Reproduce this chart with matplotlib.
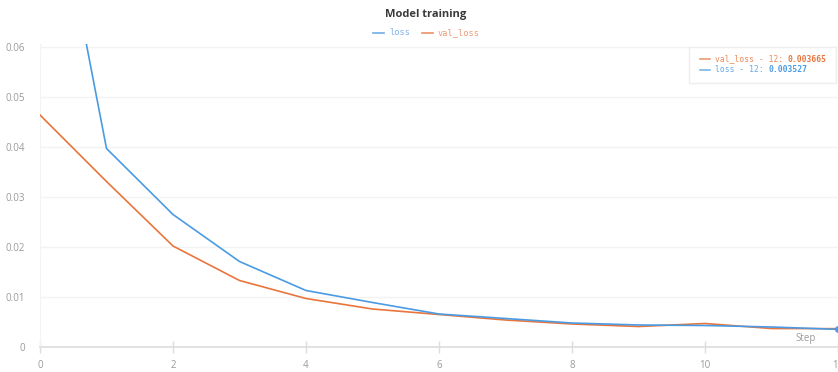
import matplotlib
matplotlib.use("Agg")
import matplotlib.pyplot as plt
from matplotlib.lines import Line2D
from matplotlib.patches import Rectangle

steps = [0, 1, 2, 3, 4, 5, 6, 7, 8, 9, 10, 11, 12]
loss = [0.1087, 0.0397, 0.0265, 0.0171, 0.0113, 0.0089, 0.0066, 0.0057, 0.0048, 0.0044, 0.0043, 0.0040, 0.003527]
val_loss = [0.0464, 0.0331, 0.0202, 0.0133, 0.0097, 0.0076, 0.0065, 0.0054, 0.0046, 0.0041, 0.0047, 0.0037, 0.003665]
yticks = [0, 0.01, 0.02, 0.03, 0.04, 0.05, 0.06]
ytick_labels = ["0", "0.01", "0.02", "0.03", "0.04", "0.05", "0.06"]
xticks = [0, 2, 4, 6, 8, 10, 12]

BLUE = "#4a9be3"
ORANGE = "#e8763c"
BLUE_T = "#7eb3ec"
ORANGE_T = "#ef9a76"

W, H = 838, 372
fig = plt.figure(figsize=(W / 100, H / 100), dpi=100)
ax = fig.add_axes([40 / W, 1 - 347 / H, (838 - 40) / W, (347 - 44) / H])
ax.set_xlim(0, 12)
ax.set_ylim(0, 0.0606)

ax.plot(steps, val_loss, color=ORANGE, lw=1.2, zorder=3)
ax.plot(steps, loss, color=BLUE, lw=1.2, zorder=4, clip_on=True)
ax.plot([steps[-1]], [loss[-1]], 'o', color=BLUE, ms=4, zorder=5, clip_on=False)

ax.set_yticks(yticks)
ax.set_yticklabels(ytick_labels)
ax.set_xticks(xticks)
ax.set_xticklabels([str(t) for t in xticks])
ax.grid(axis='y', color='#f3f3f3', lw=1)
ax.set_axisbelow(True)
for s in ['top', 'right']:
    ax.spines[s].set_visible(False)
ax.spines['left'].set_color('#f3f3f3')
ax.spines['bottom'].set_color('#dddddd')
ax.spines['bottom'].set_linewidth(1.2)
ax.tick_params(axis='y', length=0, pad=11, labelsize=7, labelcolor='#9a9a9a')
ax.tick_params(axis='x', direction='inout', length=8, width=1, color='#dddddd', pad=5,
               labelsize=7, labelcolor='#9a9a9a')
for lab in ax.get_xticklabels() + ax.get_yticklabels():
    lab.set_fontfamily('Open Sans')
ax.text(0.972, 0.027, "Step", transform=ax.transAxes, ha='right', va='center',
        fontsize=7, color='#9a9a9a', family='Open Sans')

# title
fig.text(426 / W, 1 - 14 / H, "Model training", ha='center', va='center',
         fontsize=8, fontweight='bold', color='#3a3a3a', family='Open Sans')

def fx(px):
    return px / W

def fy(py):
    return 1 - py / H

# top legend
ly = 32.5
for x0, x1, tx, label, lc, tc in [(373, 384, 389, 'loss', BLUE, BLUE_T),
                                    (422, 433, 438, 'val_loss', ORANGE, ORANGE_T)]:
    fig.add_artist(Line2D([fx(x0), fx(x1)], [fy(ly), fy(ly)], color=lc, lw=1.2, alpha=0.8))
    fig.text(fx(tx), fy(ly), label, ha='left', va='center', fontsize=6.2,
             family='DejaVu Sans Mono', color=tc)

# tooltip box
fig.add_artist(Rectangle((fx(689), fy(83)), (836 - 689) / W, (83 - 47) / H,
                         facecolor='white', edgecolor='#eeeeee', lw=1, zorder=10))
cw = 0.602 * 5.8 * 100 / 72
for yy, lc, tc, name, val in [(59, ORANGE, ORANGE, 'val_loss - 12: ', '0.003665'),
                              (70, BLUE, BLUE, 'loss - 12: ', '0.003527')]:
    fig.add_artist(Line2D([fx(700), fx(710)], [fy(yy), fy(yy)], color=lc, lw=1.1, zorder=11, alpha=0.8))
    fig.text(fx(715), fy(yy), name, ha='left', va='center', fontsize=5.8,
             family='DejaVu Sans Mono', color=tc, alpha=0.85, zorder=11)
    fig.text(fx(715 + cw * len(name)), fy(yy), val, ha='left', va='center', fontsize=5.8,
             family='DejaVu Sans Mono', fontweight='bold', color=tc, zorder=11)

fig.savefig("out.png", dpi=100)
